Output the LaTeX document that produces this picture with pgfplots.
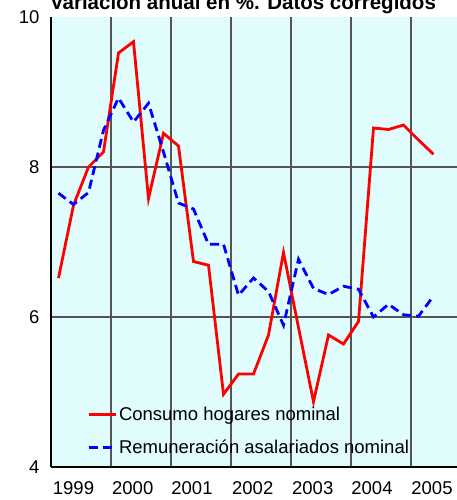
\documentclass[border=0pt]{standalone}
\usepackage{fontspec}
\setmainfont{Liberation Sans}
\usepackage{pgfplots}
\pgfplotsset{compat=1.18}
\definecolor{bgc}{RGB}{224,252,252}
\definecolor{gridc}{RGB}{85,85,85}
\begin{document}
\begin{tikzpicture}
\begin{axis}[
  at={(0pt,0pt)}, anchor=south west,
  scale only axis, width=420pt, height=450pt,
  xmin=0, xmax=28, ymin=4, ymax=10,
  axis background/.style={fill=bgc},
  axis x line*=bottom, axis y line*=left,
  axis line style={black, line width=1.5pt},
  xtick={1.5,5.45,9.4,13.45,17.45,21.4,25.4},
  xticklabels={1999,2000,2001,2002,2003,2004,2005},
  minor xtick={4,8,12,16,20,24},
  ytick={4,6,8,10},
  minor ytick={6,8},
  xminorgrids, yminorgrids,
  minor x grid style={gridc, line width=1.3pt},
  minor y grid style={gridc, line width=1.6pt},
  major tick length=0pt, minor tick length=0pt,
  /pgf/number format/assume math mode=true,
  tick label style={font=\fontsize{18.5}{22}\selectfont},
  yticklabel style={xshift=-8pt},
  xticklabel style={yshift=-11pt},
  legend style={draw=none, fill=none, at={(axis cs:2.2,4.1)}, anchor=south west,
    font=\fontsize{18.5}{22}\selectfont, row sep=14pt},
  legend cell align=left,
  legend image code/.code={\draw[#1] (0pt,0pt) -- (22pt,0pt); \path (0pt,0pt) -- (27pt,0pt);},
]
\addplot[red, line width=2.8pt] coordinates {
(0.5,6.52) (1.5,7.49) (2.5,8.00) (3.5,8.20) (4.5,9.52) (5.5,9.67)
(6.5,7.58) (7.5,8.45) (8.5,8.28) (9.5,6.74) (10.5,6.69) (11.5,4.97)
(12.5,5.24) (13.5,5.24) (14.5,5.76) (15.5,6.86) (16.5,5.86) (17.5,4.87)
(18.5,5.76) (19.5,5.64) (20.5,5.94) (21.5,8.52) (22.5,8.50) (23.5,8.56)
(24.5,8.36) (25.5,8.17)};
\addlegendentry{Consumo hogares nominal}
\addplot[blue, line width=2.8pt, dash pattern=on 9pt off 5pt] coordinates {
(0.5,7.65) (1.5,7.50) (2.5,7.66) (3.5,8.49) (4.5,8.92) (5.5,8.60)
(6.5,8.85) (7.5,8.20) (8.5,7.52) (9.5,7.44) (10.5,6.97) (11.5,6.97)
(12.5,6.29) (13.5,6.52) (14.5,6.34) (15.5,5.89) (16.5,6.77) (17.5,6.38)
(18.5,6.30) (19.5,6.41) (20.5,6.37) (21.5,6.00) (22.5,6.17) (23.5,6.03)
(24.5,6.01) (25.5,6.28)};
\addlegendentry{Remuneración asalariados nominal}
\end{axis}
\node[font=\bfseries\fontsize{20.5}{24}\selectfont, anchor=base] at (192pt,457pt) {Variación anual en \%. Datos corregidos};
\pgfresetboundingbox
\path (-51pt,-33pt) rectangle (406pt,467pt);
\end{tikzpicture}
\end{document}
